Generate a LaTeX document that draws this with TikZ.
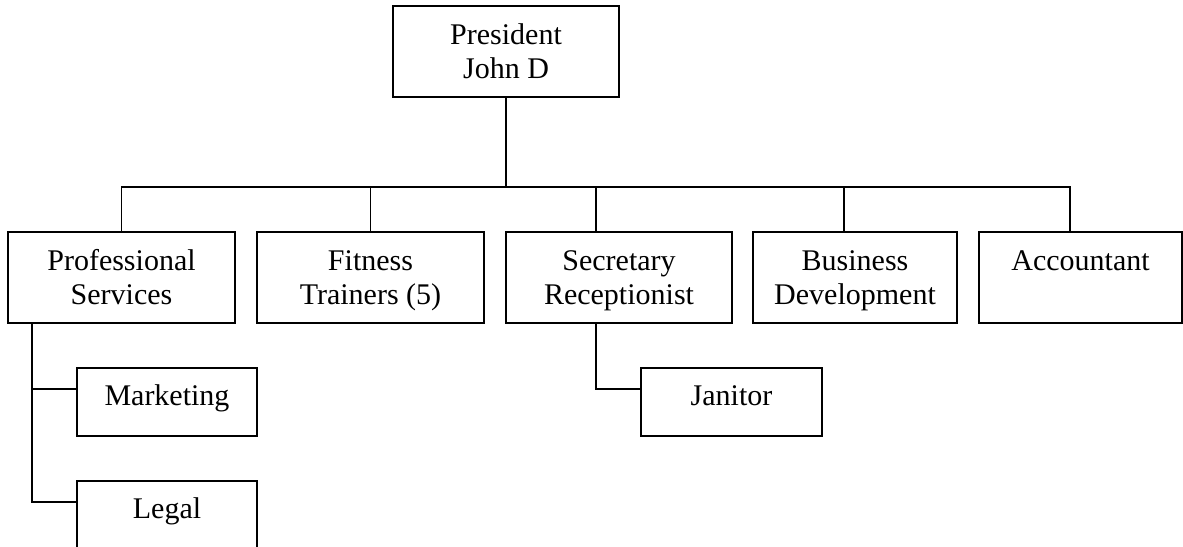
\documentclass[tikz,border=0pt]{standalone}
\usepackage{fontspec}
\setmainfont{Liberation Serif}
\usetikzlibrary{calc}
\newcommand\boxstrut{\rule[-7pt]{0pt}{34pt}}
\begin{document}
\begin{tikzpicture}[x=1pt,y=-1pt,
  box/.style={draw,line width=1.7pt,rectangle,inner sep=0pt,align=center,
    font=\fontsize{30}{34}\selectfont},
  bigbox/.style={box,minimum height=91pt},
  smallbox/.style={box,minimum height=68pt,text height=21pt,text depth=14pt},
  conn/.style={line width=1.6pt}]
\useasboundingbox (0,0) rectangle (1183,546);
\clip (0,0) rectangle (1183,546);
\node[bigbox,minimum width=226pt] (pres) at (506,51.5) {\boxstrut President\\\boxstrut John D};
\node[bigbox,minimum width=227pt] (ps) at (121.5,277.5) {\boxstrut Professional\\\boxstrut Services};
\node[bigbox,minimum width=227pt] (ft) at (370.5,277.5) {\boxstrut Fitness\\\boxstrut Trainers (5)};
\node[bigbox,minimum width=226pt] (sr) at (619,277.5) {\boxstrut Secretary\\\boxstrut Receptionist};
\node[bigbox,minimum width=204pt] (bd) at (855,277.5) {\boxstrut Business\\\boxstrut Development};
\node[bigbox,minimum width=203pt] (ac) at (1080.5,277.5) {\boxstrut Accountant\\\boxstrut};
\node[smallbox,minimum width=180pt] (mk) at (167,402) {Marketing};
\node[smallbox,minimum width=181pt] (jn) at (731.5,402) {Janitor};
\node[smallbox,minimum width=180pt] (lg) at (167,515) {Legal};
\coordinate (bus) at (506,187);
\coordinate (srtop) at (596,232);
\coordinate (bdtop) at (844,232);
\coordinate (actop) at (1070,232);
\coordinate (psbot) at (32,323);
\coordinate (srbot) at (596,323);
\coordinate (mkin) at ($(mk.north west)+(0,22)$);
\coordinate (lgin) at ($(lg.north west)+(0,22)$);
\coordinate (jnin) at ($(jn.north west)+(0,22)$);
\draw[conn] (pres.south) -- (bus);
\draw[conn] (ps.north) -- (ps.north |- bus) -- (actop |- bus) -- (actop);
\draw[conn] (ft.north) -- (ft.north |- bus);
\draw[conn] (srtop) -- (srtop |- bus);
\draw[conn] (bdtop) -- (bdtop |- bus);
\draw[conn] (psbot) |- (mkin);
\draw[conn] (psbot) |- (lgin);
\draw[conn] (srbot) |- (jnin);
\end{tikzpicture}
\end{document}
